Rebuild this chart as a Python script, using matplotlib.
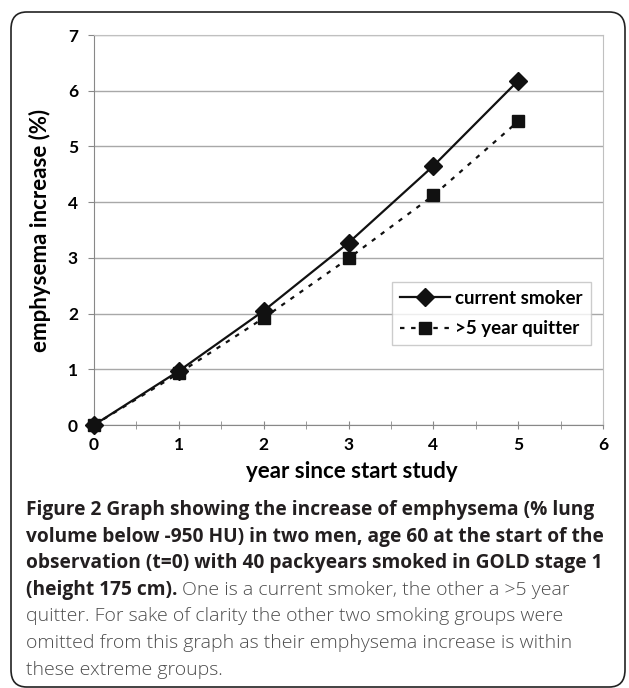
import matplotlib
matplotlib.use("Agg")
import matplotlib.pyplot as plt
from matplotlib.patches import FancyBboxPatch
from matplotlib.ticker import MultipleLocator

years = [0, 1, 2, 3, 4, 5]
current_smoker = [0.0, 0.97, 2.05, 3.27, 4.65, 6.18]
quitter = [0.0, 0.93, 1.92, 2.99, 4.12, 5.45]
series_labels = ["current smoker", ">5 year quitter"]
x_ticks = [0, 1, 2, 3, 4, 5, 6]
y_ticks = [0, 1, 2, 3, 4, 5, 6, 7]

W, H = 629, 688
fig = plt.figure(figsize=(W/100, H/100), dpi=100)
fig.patch.set_facecolor("white")

# outer rounded frame
frame = FancyBboxPatch((11/W, 1/H), (614/W), (675/H), boxstyle="round,pad=0,rounding_size=0.025",
                       transform=fig.transFigure, fill=False, edgecolor="#222222", linewidth=1.2)
fig.patches.append(frame)

ax = fig.add_axes([94/W, 1-425/H, (603-94)/W, (425-35)/H])
ax.plot(years, current_smoker, color="#111111", linewidth=1.6, marker="D", markersize=9.5,
        label=series_labels[0], clip_on=False, zorder=3)
ax.plot(years, quitter, color="#111111", linewidth=1.6, linestyle=(0, (2, 3)), marker="s", markersize=8,
        label=series_labels[1], clip_on=False, zorder=3)
ax.set_xlim(0, 6)
ax.set_ylim(0, 7)
ax.set_xticks(x_ticks)
ax.set_yticks(y_ticks)
ax.xaxis.set_minor_locator(MultipleLocator(0.5))
ax.set_xticklabels([str(v) for v in x_ticks], fontsize=12.5, fontweight="bold", family="Lato")
ax.set_yticklabels([str(v) for v in y_ticks], fontsize=12.5, fontweight="bold", family="Lato")
ax.tick_params(axis="y", which="major", direction="out", length=4.5, color="#888888", pad=7)
ax.tick_params(axis="x", which="both", direction="inout", length=6, color="#888888", pad=6)
ax.grid(axis="y", color="#a8a8a8", linewidth=1)
ax.set_axisbelow(True)
for side in ["top", "right"]:
    ax.spines[side].set_color("#c0c0c0")
for side in ["left", "bottom"]:
    ax.spines[side].set_color("#888888")
ax.set_xlabel("year since start study", fontsize=16, fontweight="bold", family="Lato")
ax.set_ylabel("emphysema increase (%)", fontsize=16, fontweight="bold", family="Lato")
ax.yaxis.set_label_coords((51-94)/509, 0.5)
ax.xaxis.set_label_coords(((352-94)/509), -(461-425)/390)

leg = ax.legend(loc="upper left", bbox_to_anchor=((392-94)/509, (425-282)/390), frameon=True,
                fancybox=False, edgecolor="#c0c0c0", borderaxespad=0,
                prop={"family": "Lato", "weight": "bold", "size": 13.5},
                handlelength=2.65, handletextpad=0.3, borderpad=0.42, labelspacing=0.72)
leg.get_frame().set_linewidth(1)

bold_lines = ["Figure 2 Graph showing the increase of emphysema (% lung",
              "volume below -950 HU) in two men, age 60 at the start of the",
              "observation (t=0) with 40 packyears smoked in GOLD stage 1"]
rest = ["quitter. For sake of clarity the other two smoking groups were",
        "omitted from this graph as their emphysema increase is within",
        "these extreme groups."]
x0 = 26/W
y0 = 1 - 510/H
dy = 26.6/H

# fit caption font sizes to the reference line widths (in pixels)
renderer = fig.canvas.get_renderer()
probe = fig.text(0, 0, bold_lines[0], fontsize=13, fontweight="bold", family="Open Sans")
wb = probe.get_window_extent(renderer).width
probe.remove()
fs_b = 13 * 565 / wb
probe = fig.text(0, 0, rest[0], fontsize=13, fontweight="light", family="Open Sans")
wr = probe.get_window_extent(renderer).width
probe.remove()
fs_r = 13 * 533 / wr

for i, ln in enumerate(bold_lines):
    fig.text(x0, y0 - i*dy, ln, fontsize=fs_b, fontweight="bold", family="Open Sans",
             color="#231f20", va="center")
t = fig.text(x0, y0 - 3*dy, "(height 175 cm).", fontsize=fs_b, fontweight="bold", family="Open Sans",
             color="#231f20", va="center")
bb = t.get_window_extent(renderer)
fig.text(bb.x1/W + 5/W, y0 - 3*dy, "One is a current smoker, the other a >5 year", fontsize=fs_r,
         family="Open Sans", fontweight="light", color="#4d4d4d", va="center")
for i, ln in enumerate(rest):
    fig.text(x0, y0 - (4+i)*dy, ln, fontsize=fs_r, family="Open Sans", fontweight="light",
             color="#4d4d4d", va="center")

fig.savefig("out.png", dpi=100)
